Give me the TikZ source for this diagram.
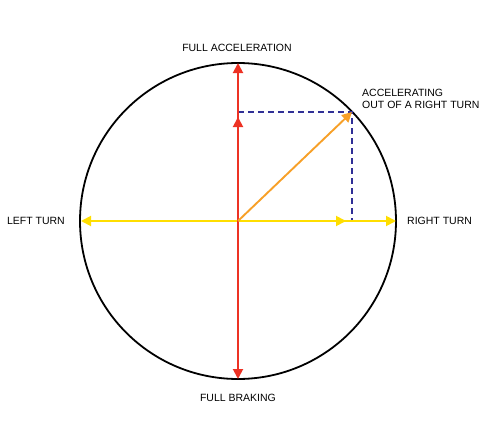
\documentclass[tikz,border=0pt]{standalone}
\usepackage{fontspec}
\setmainfont{Liberation Sans}
\usetikzlibrary{arrows.meta}
\definecolor{brakered}{RGB}{237,50,36}
\definecolor{turnyellow}{RGB}{255,222,0}
\definecolor{resultorange}{RGB}{247,160,40}
\definecolor{compblue}{RGB}{48,48,150}
\begin{document}
\begin{tikzpicture}[x=1pt, y=-1pt, every node/.style={font=\fontsize{10.5}{12.3}\selectfont, inner sep=0pt}, >={Triangle[length=10pt, width=10pt]}, force/.style={line width=1.9pt, ->}, comp/.style={compblue, line width=1.6pt, dash pattern=on 6pt off 4pt}]
	\useasboundingbox (0,0) rectangle (491,434);
	\coordinate (O) at (238,221);
	\coordinate (N) at (238,63);
	\coordinate (S) at (238,379);
	\coordinate (W) at (81,221);
	\coordinate (E) at (396,221);
	\coordinate (Ny) at (238,117);
	\coordinate (Ex) at (346,221);
	\coordinate (P) at (352,112);
	\coordinate (Py) at (238,112);
	\coordinate (Px) at (352,221);
	\draw[line width=1.8pt] (O) circle[radius=158];
	\draw[comp] (Py) -- (P) -- (Px);
	\draw[force, turnyellow] (O) -- (W);
	\draw[force, turnyellow] (O) -- (E);
	\draw[force, turnyellow] (O) -- (Ex);
	\draw[force, brakered] (O) -- (N);
	\draw[force, brakered] (O) -- (S);
	\draw[force, brakered] (O) -- (Ny);
	\draw[force, resultorange] (O) -- (P);
	\node (accel) at (237,48) {FULL ACCELERATION};
	\node (brake) at (238,398) {FULL BRAKING};
	\node[anchor=east] (left) at (65,221) {LEFT TURN};
	\node[anchor=west] (right) at (407,221) {RIGHT TURN};
	\node[anchor=north west, align=left] (exit) at (362,89) {ACCELERATING\\OUT OF A RIGHT TURN};
\end{tikzpicture}
\end{document}
